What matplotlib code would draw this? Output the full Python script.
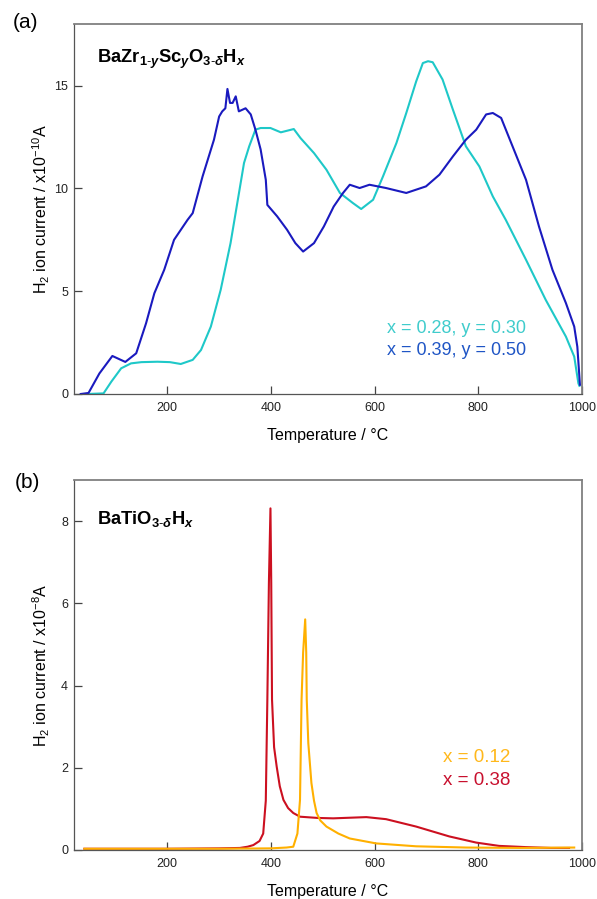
import matplotlib
matplotlib.use("Agg")
import matplotlib.pyplot as plt

plt.rcParams["font.family"] = ["Liberation Sans", "DejaVu Sans"]
plt.rcParams["mathtext.fontset"] = "custom"
plt.rcParams["mathtext.rm"] = "Liberation Sans"
plt.rcParams["mathtext.it"] = "Liberation Sans:italic"
plt.rcParams["mathtext.bf"] = "Liberation Sans:bold"
plt.rcParams["mathtext.bfit"] = "Liberation Sans:bold:italic"

# (a) BaZr1-yScyO3-dHx, H2 ion current in 1e-10 A
temp_a_039 = [33, 48, 69, 94, 119, 140, 159, 175, 194, 213, 239, 249, 268, 290, 300,
              306, 312, 316, 321, 326, 332, 338, 351, 361, 370, 380, 390, 393, 412,
              431, 447, 462, 483, 502, 521, 539, 552, 571, 590, 622, 661, 699, 725,
              751, 776, 796, 815, 828, 844, 866, 892, 917, 943, 969, 985, 991, 994, 996]
curr_a_039 = [0.0, 0.05, 1.0, 1.85, 1.56, 1.98, 3.44, 4.9, 6.04, 7.5, 8.47, 8.8, 10.58,
              12.37, 13.5, 13.75, 13.9, 14.84, 14.16, 14.16, 14.48, 13.75, 13.9, 13.6,
              12.86, 11.9, 10.42, 9.2, 8.64, 7.99, 7.34, 6.93, 7.34, 8.15, 9.12, 9.78,
              10.18, 10.02, 10.18, 10.02, 9.78, 10.1, 10.67, 11.56, 12.37, 12.86, 13.6,
              13.67, 13.43, 12.05, 10.42, 8.15, 6.04, 4.42, 3.28, 2.3, 1.2, 0.45]

temp_a_028 = [45, 77, 92, 111, 130, 150, 181, 205, 226, 249, 265, 284, 303, 322, 335,
              348, 358, 370, 380, 399, 419, 444, 457, 483, 507, 533, 558, 574, 597, 616,
              642, 661, 680, 693, 703, 712, 731, 751, 776, 802, 828, 853, 892, 930, 969,
              985, 993, 995]
curr_a_028 = [0.0, 0.03, 0.6, 1.25, 1.49, 1.55, 1.57, 1.55, 1.46, 1.66, 2.14, 3.28, 5.07,
              7.34, 9.29, 11.24, 12.05, 12.86, 12.94, 12.94, 12.73, 12.89, 12.45, 11.72,
              10.91, 9.78, 9.29, 9.0, 9.45, 10.58, 12.21, 13.67, 15.2, 16.1, 16.19, 16.14,
              15.3, 13.83, 12.05, 11.07, 9.61, 8.47, 6.53, 4.58, 2.79, 1.82, 0.52, 0.4]

# (b) BaTiO3-dHx, H2 ion current in 1e-8 A
temp_b_038 = [40, 100, 200, 300, 340, 355, 366, 378, 385, 390, 393, 396, 399, 400.5,
              402, 406, 411, 417, 424, 433, 443, 456, 490, 520, 584, 622, 680, 744, 796,
              840, 892, 940, 975]
curr_b_038 = [0.03, 0.03, 0.03, 0.04, 0.05, 0.08, 0.12, 0.22, 0.4, 1.2, 3.66, 6.5, 8.31,
              6.5, 3.66, 2.5, 2.03, 1.55, 1.22, 1.02, 0.9, 0.81, 0.78, 0.77, 0.8, 0.75,
              0.57, 0.33, 0.18, 0.1, 0.07, 0.05, 0.05]

temp_b_012 = [40, 150, 300, 400, 430, 443, 451, 456, 459, 462, 466, 468, 469, 472, 478,
              483, 488, 495, 507, 530, 552, 603, 680, 776, 880, 985]
curr_b_012 = [0.03, 0.03, 0.03, 0.04, 0.06, 0.08, 0.4, 1.22, 3.66, 4.8, 5.61, 4.8, 3.66,
              2.6, 1.63, 1.2, 0.9, 0.72, 0.57, 0.4, 0.28, 0.16, 0.09, 0.06, 0.05, 0.06]

W, H = 597, 899
fig = plt.figure(figsize=(W / 100, H / 100), dpi=100)


def px_axes(left, top, right, bottom):
    return fig.add_axes([left / W, 1 - bottom / H, (right - left) / W, (bottom - top) / H])


def style(ax, ylim, yticks, ylabel):
    ax.set_xlim(20, 1000)
    ax.set_ylim(*ylim)
    ax.set_xticks([200, 400, 600, 800, 1000])
    ax.set_yticks(yticks)
    ax.tick_params(direction="in", length=5.8, width=0.9, color="#444444",
                   labelsize=9, labelcolor="#222222")
    ax.tick_params(axis="x", pad=5.5)
    ax.tick_params(axis="y", pad=4.3)
    for s in ("left", "bottom"):
        ax.spines[s].set_color("#555555")
        ax.spines[s].set_linewidth(0.9)
    for s in ("top", "right"):
        ax.spines[s].set_color("#808080")
        ax.spines[s].set_linewidth(1.3)
    ax.set_xlabel("Temperature / °C", fontsize=11.5, va="top")
    ax.xaxis.set_label_coords(0.5, -0.093)
    ax.set_ylabel(ylabel, fontsize=11.5)
    ax.yaxis.set_label_coords(-0.043, 0.5)


ax1 = px_axes(74, 24, 582, 394)
ax1.plot(temp_a_028, curr_a_028, color="#1ec8c8", lw=1.5)
ax1.plot(temp_a_039, curr_a_039, color="#1a1abf", lw=1.5)
style(ax1, (0, 18), [0, 5, 10, 15], "H$_2$ ion current / x10$^{-10}$A")
ax1.text(0.045, 0.8946,
         r"$\mathbf{BaZr}_{\mathbf{1}\mathbf{\text{-}}\mathbfit{y}}\mathbf{Sc}_{\mathbfit{y}}"
         r"\mathbf{O}_{\mathbf{3}\mathbf{\text{-}}\mathbfit{\delta}}\mathbf{H}_{\mathbfit{x}}$",
         transform=ax1.transAxes, fontsize=13.2, va="baseline", ha="left")
ax1.text(0.616, 0.166, "x = 0.28, y = 0.30", transform=ax1.transAxes,
         fontsize=13, color="#40cccc", va="baseline")
ax1.text(0.616, 0.105, "x = 0.39, y = 0.50", transform=ax1.transAxes,
         fontsize=13, color="#1f55c5", va="baseline")

ax2 = px_axes(74, 480, 582, 850)
ax2.plot(temp_b_038, curr_b_038, color="#cc1020", lw=1.5)
ax2.plot(temp_b_012, curr_b_012, color="#ffb000", lw=1.5)
style(ax2, (0, 9), [0, 2, 4, 6, 8], "H$_2$ ion current / x10$^{-8}$A")
ax2.text(0.045, 0.881,
         r"$\mathbf{BaTiO}_{\mathbf{3}\mathbf{\text{-}}\mathbfit{\delta}}\mathbf{H}_{\mathbfit{x}}$",
         transform=ax2.transAxes, fontsize=13.2, va="baseline", ha="left")
ax2.text(0.726, 0.239, "x = 0.12", transform=ax2.transAxes,
         fontsize=13.5, color="#ffb81c", va="baseline")
ax2.text(0.726, 0.176, "x = 0.38", transform=ax2.transAxes,
         fontsize=13.5, color="#c8102e", va="baseline")

fig.text(13 / W, 1 - 28 / H, "(a)", fontsize=15, va="baseline", ha="left")
fig.text(15 / W, 1 - 488 / H, "(b)", fontsize=15, va="baseline", ha="left")

fig.savefig("out.png", dpi=100)
